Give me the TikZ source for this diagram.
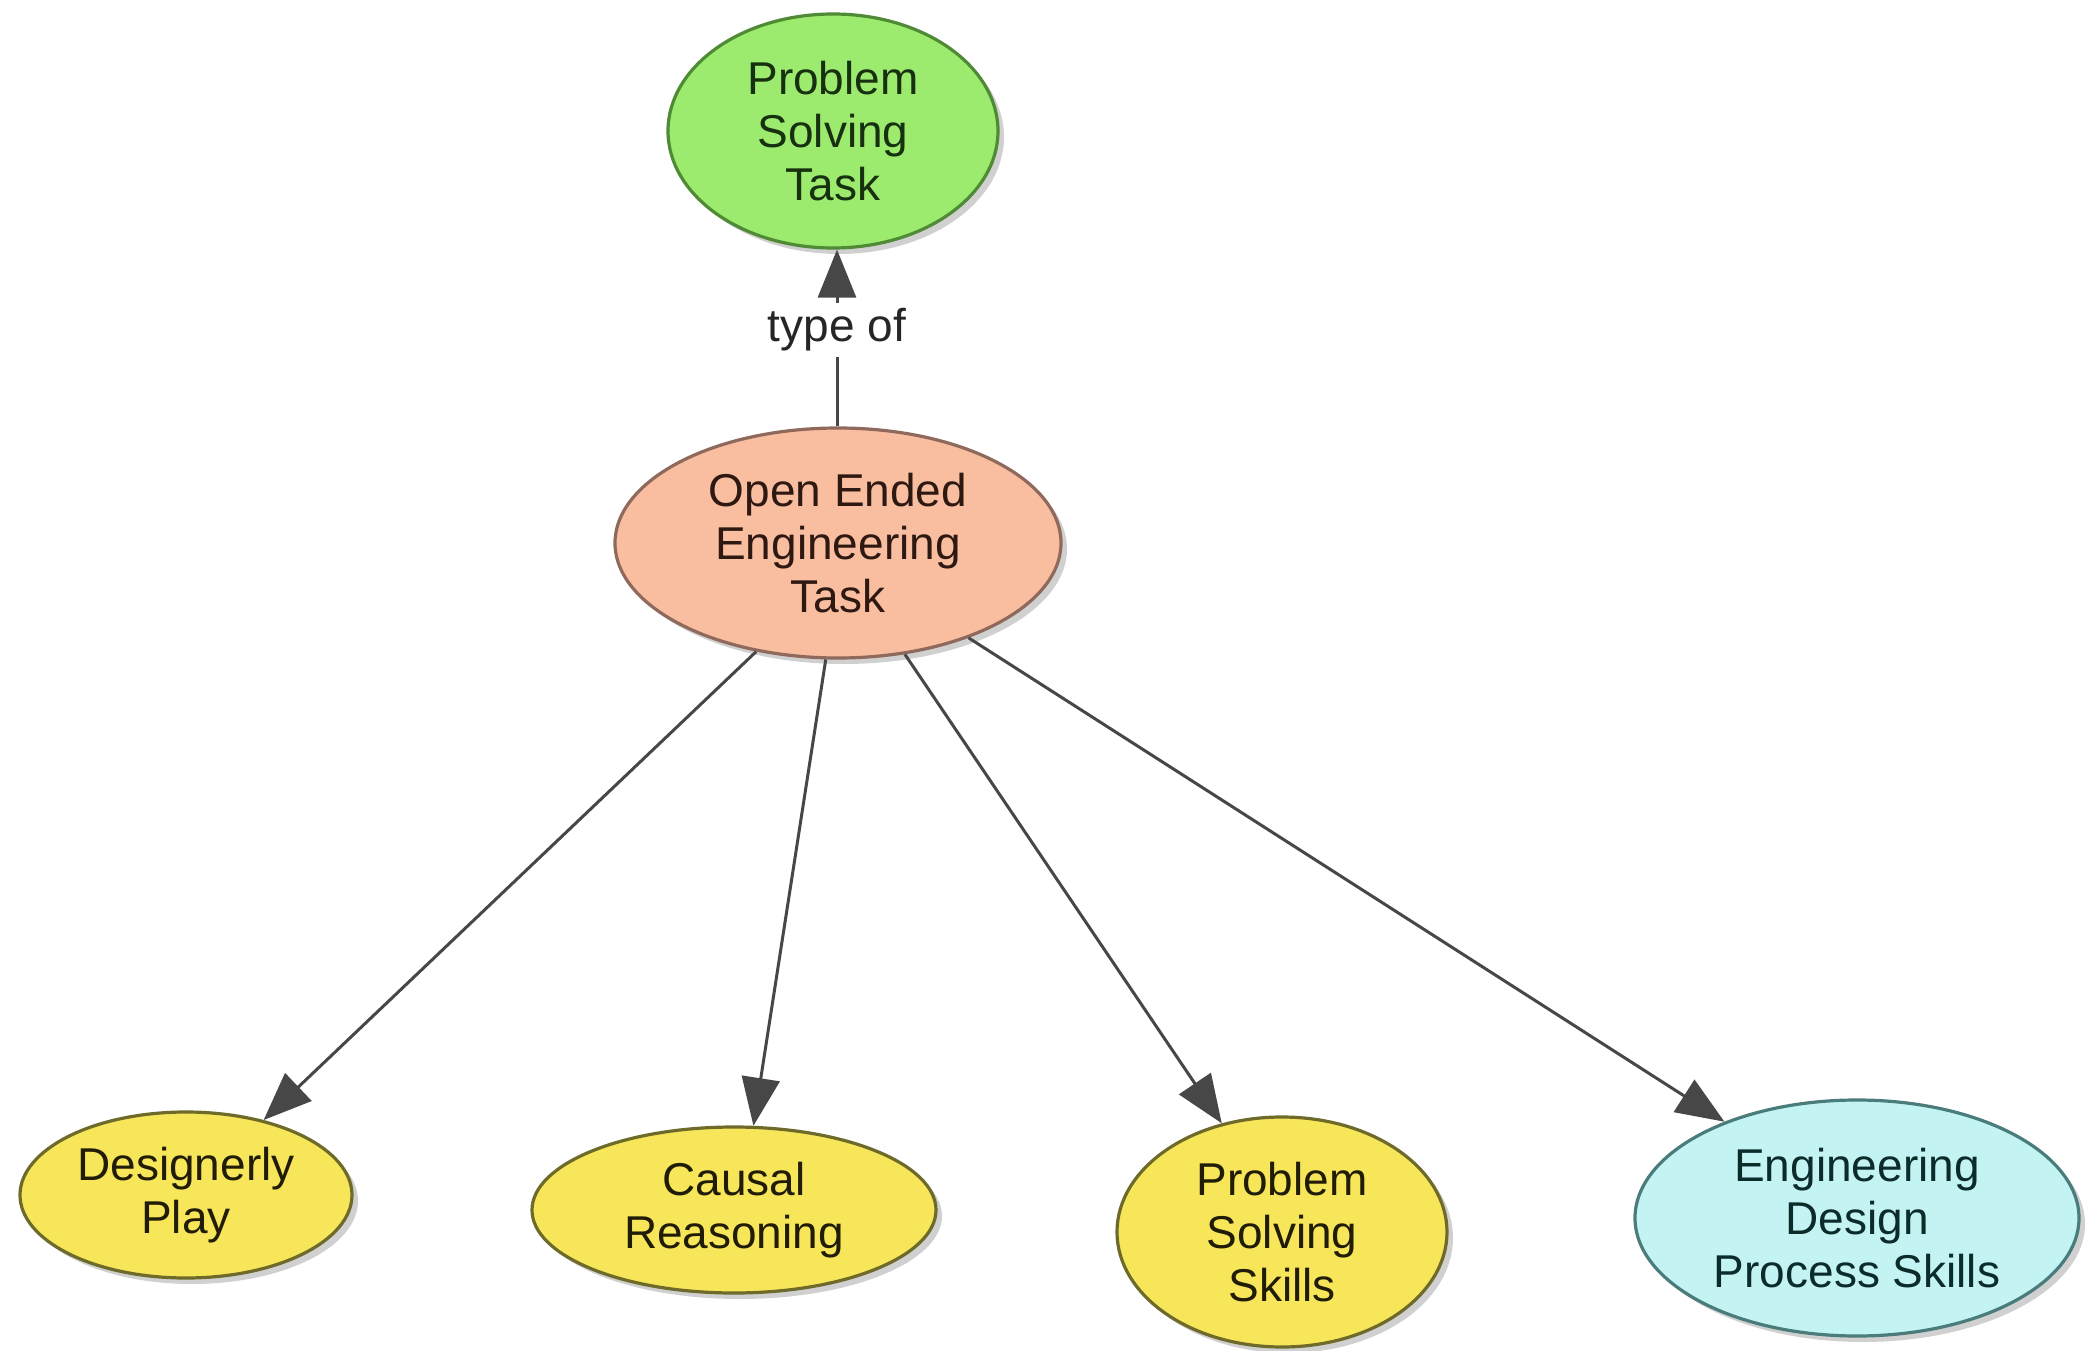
\documentclass[tikz,border=0pt]{standalone}
\usepackage{fontspec}
\setmainfont{Liberation Sans}
\usetikzlibrary{shapes.geometric,shadows,arrows.meta}
\definecolor{greenfill}{HTML}{9DEB6E}
\definecolor{greenline}{HTML}{4F8A35}
\definecolor{greentext}{HTML}{163010}
\definecolor{salmonfill}{HTML}{F9BDA0}
\definecolor{salmonline}{HTML}{8F6A5C}
\definecolor{salmontext}{HTML}{2E1812}
\definecolor{yellowfill}{HTML}{F8E65A}
\definecolor{yellowline}{HTML}{6E6A2A}
\definecolor{yellowtext}{HTML}{201C06}
\definecolor{cyanfill}{HTML}{C4F3F3}
\definecolor{cyanline}{HTML}{4A7C7C}
\definecolor{cyantext}{HTML}{0C2C2C}
\definecolor{linkgray}{HTML}{474747}
\tikzset{
  concept/.style={ellipse, draw, line width=3.2pt, inner sep=0pt, align=center,
    font=\fontsize{46}{53}\selectfont,
    drop shadow={shadow xshift=6pt, shadow yshift=-6pt, opacity=0.3, fill=black!60}},
  greenc/.style={concept, fill=greenfill, draw=greenline, text=greentext},
  salmonc/.style={concept, fill=salmonfill, draw=salmonline, text=salmontext},
  yellowc/.style={concept, fill=yellowfill, draw=yellowline, text=yellowtext},
  cyanc/.style={concept, fill=cyanfill, draw=cyanline, text=cyantext},
  link/.style={draw=linkgray, line width=3pt},
  arrowlink/.style={link, -{Triangle[length=48pt,width=38pt,fill=linkgray]}},
  linklabel/.style={font=\fontsize{46}{53}\selectfont, text=black!85, inner sep=5pt, fill=white}
}
\begin{document}
\begin{tikzpicture}[x=1pt,y=-1pt]
\useasboundingbox[fill=white] (0,0) rectangle (2089,1351);
\node[greenc, minimum width=330pt, minimum height=234pt] (pst) at (833,131) {Problem\\Solving\\Task};
\node[salmonc, minimum width=446pt, minimum height=230pt] (oeet) at (838,543) {Open Ended\\Engineering\\Task};
\node[yellowc, minimum width=332pt, minimum height=166pt] (dp) at (186,1195) {Designerly\\Play};
\node[yellowc, minimum width=404pt, minimum height=166pt] (cr) at (734,1210) {Causal\\Reasoning};
\node[yellowc, minimum width=330pt, minimum height=230pt] (pss) at (1282,1232) {Problem\\Solving\\Skills};
\node[cyanc, minimum width=444pt, minimum height=236pt] (edps) at (1857,1218) {Engineering\\Design\\Process Skills};
\node[linklabel] (typeof) at (837,330) {type of};
\draw[link] (oeet.north -| typeof.south) -- (typeof.south);
\draw[arrowlink] (typeof.north) -- (typeof.north |- pst.south);
\draw[arrowlink] (oeet.233.3) -- (dp.44.3);
\draw[arrowlink] (oeet.264.4) -- (cr.77.6);
\draw[arrowlink] (oeet.301.5) -- (pss.119.6);
\draw[arrowlink] (oeet.324.9) -- (edps.144.9);
\end{tikzpicture}
\end{document}
